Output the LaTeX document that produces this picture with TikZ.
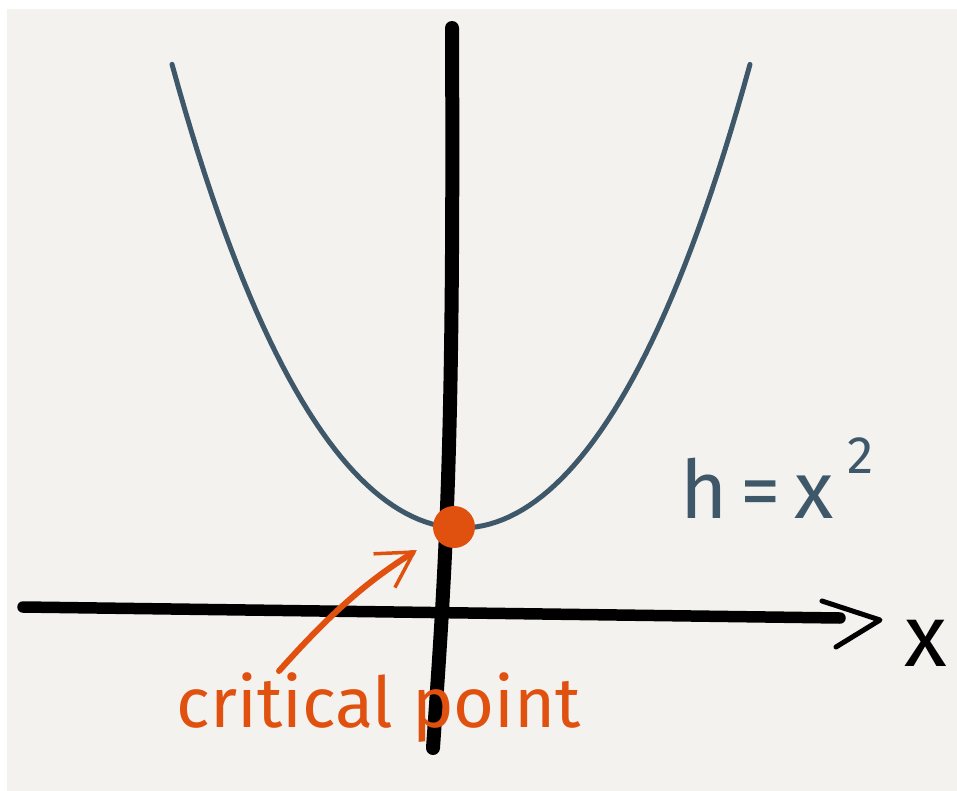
\documentclass[tikz,border=0pt]{standalone}
\usepackage{fontspec}
\setmainfont{Fira Sans}
\usetikzlibrary{arrows.meta}
\definecolor{paper}{HTML}{F4F2EF}
\definecolor{curveblue}{HTML}{3E5869}
\definecolor{critorange}{HTML}{E0500F}
\begin{document}
\begin{tikzpicture}[x=0.02cm, y=-0.02cm,
    axisline/.style={black, line width=2.3mm, line cap=round},
    barb/.style={black, line width=1mm, line cap=round, line join=round},
    parab/.style={curveblue, line width=1mm, line cap=round},
    hand/.style={inner sep=0pt, outer sep=0pt}]
    \fill[white] (0,0) rectangle (957,791);
    \fill[paper] (7,9) rectangle (957,791);
    \coordinate (xaxisstart) at (23,607);
    \coordinate (xaxisend) at (840,618);
    \coordinate (xtip) at (880,620);
    \coordinate (xbarbup) at (822,601);
    \coordinate (xbarbdown) at (836,647);
    \coordinate (yaxistop) at (452,28);
    \coordinate (yaxisbot) at (433,748);
    \coordinate (arrowtail) at (279,671);
    \draw[parab] plot[domain=-2.89:2.89, samples=90] ({100*\x+461}, {528-48*\x*\x-0.9*\x*\x*\x*\x});
    \draw[axisline] (xaxisstart) -- (xaxisend);
    \draw[barb] (xbarbup) -- (xtip) -- (xbarbdown);
    \draw[axisline, line width=2.8mm] (yaxistop) .. controls (454,450) and (446,560) .. (yaxisbot);
    \node[circle, fill=critorange, minimum size=0.84cm, inner sep=0pt] (crit) at (454,527) {};
    \draw[critorange, line width=1.2mm, line cap=round, shorten >=0.45cm,
        -{Straight Barb[length=0.7cm, width=0.8cm, line width=0.7mm]}]
        (arrowtail) to[bend left=8] (crit);
    \node[hand, anchor=base, text=critorange, font=\fontsize{40}{44}\selectfont]
        (critlabel) at (379,727) {critical point};
    \node[hand, anchor=base west, text=curveblue, font=\fontsize{46}{50}\selectfont]
        (eqlabel) at (680,518) {h\,=\,x\,\raisebox{0.55em}{\fontsize{30}{32}\selectfont 2}};
    \node[hand, anchor=base, font=\fontsize{50}{54}\selectfont]
        (xlabel) at (926,666) {x};
\end{tikzpicture}
\end{document}
